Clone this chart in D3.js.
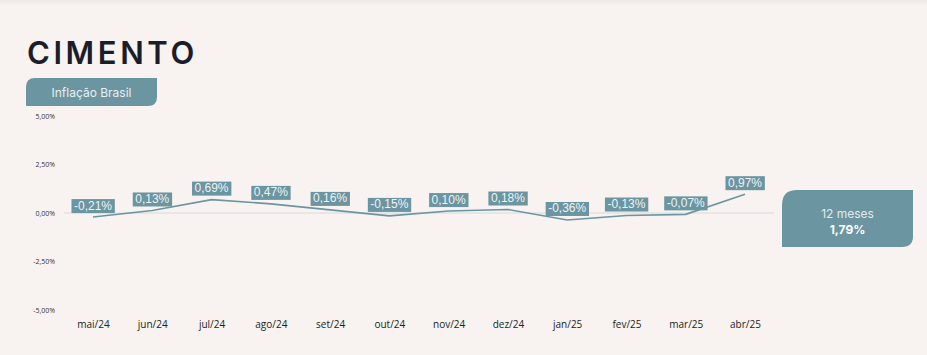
<!DOCTYPE html>
<html><head><meta charset="utf-8">
<script src="https://cdn.jsdelivr.net/npm/d3@7"></script>
<style>
html,body{margin:0;padding:0;background:#f8f3f0;}
svg{display:block;}
</style></head>
<body>
<svg id="chart" width="927" height="355"></svg>
<script>
const months = ["mai/24","jun/24","jul/24","ago/24","set/24","out/24","nov/24","dez/24","jan/25","fev/25","mar/25","abr/25"];
const values = [-0.21, 0.13, 0.69, 0.47, 0.16, -0.15, 0.10, 0.18, -0.36, -0.13, -0.07, 0.97];
const yTicks = [5, 2.5, 0, -2.5, -5];
const title = "CIMENTO";
const subtitle = "Inflação Brasil";
const summaryLabel = "12 meses";
const summaryValue = "1,79%";

const fmt = v => v.toFixed(2).replace(".", ",") + "%";
const svg = d3.select("#chart");
const teal = "#6b95a1";

const defs = svg.append("defs");
const g0 = defs.append("linearGradient").attr("id","topg").attr("x1",0).attr("x2",0).attr("y1",0).attr("y2",1);
g0.append("stop").attr("offset","0").attr("stop-color","#efe9e6");
g0.append("stop").attr("offset","1").attr("stop-color","#f8f3f0");
svg.append("rect").attr("width",927).attr("height",355).attr("fill","#f8f3f0");
svg.append("rect").attr("width",927).attr("height",6).attr("fill","url(#topg)");

// title
svg.append("text").attr("x",27).attr("y",63.5).text(title)
  .attr("font-family","Inter, 'Open Sans', sans-serif").attr("font-weight",600)
  .attr("font-size",31).attr("letter-spacing",3.6).attr("fill","#1c1d2b");

function tabPath(x,y,w,h,r1,r2){
  return `M${x+r1},${y} H${x+w} V${y+h-r2} Q${x+w},${y+h} ${x+w-r2},${y+h} H${x} V${y+r1} Q${x},${y} ${x+r1},${y} Z`;
}
svg.append("path").attr("d",tabPath(26,78,131,28,9,9)).attr("fill",teal);
svg.append("text").attr("x",91.5).attr("y",96.5).attr("text-anchor","middle").text(subtitle)
  .attr("font-family","Inter, sans-serif").attr("font-size",12).attr("fill","#e9eff1");

const x = d3.scalePoint().domain(months).range([93,745]);
const y = d3.scaleLinear().domain([-5,5]).range([310,116]);

const yAxis = d3.axisLeft(y).tickValues(yTicks).tickSize(0).tickPadding(0)
  .tickFormat(d => d.toFixed(2).replace(".", ",") + "%");
const ya = svg.append("g").attr("transform","translate(55,0)").call(yAxis);
ya.select(".domain").remove();
ya.selectAll("text").attr("font-family","'Open Sans', sans-serif").attr("font-size",7).attr("fill","#333");

const xAxis = d3.axisBottom(x).tickSize(0).tickPadding(0);
const xa = svg.append("g").attr("transform","translate(0,321)").call(xAxis);
xa.select(".domain").remove();
xa.selectAll("text").attr("font-family","'Open Sans', sans-serif").attr("font-size",10).attr("fill","#222");

svg.append("line").attr("x1",64).attr("x2",774).attr("y1",y(0)).attr("y2",y(0))
  .attr("stroke","#d5dadd").attr("stroke-width",1);

const line = d3.line().x((d,i)=>x(months[i])).y(d=>y(d));
svg.append("path").datum(values).attr("d",line).attr("fill","none")
  .attr("stroke",teal).attr("stroke-width",1.6);

const lg = svg.append("g");
values.forEach((v,i)=>{
  const cx = x(months[i]);
  const py = y(v);
  const t = lg.append("text").attr("x",cx).attr("y",py-7.5).attr("text-anchor","middle")
    .text(fmt(v)).attr("font-family","'Liberation Sans', Arial, sans-serif")
    .attr("font-size",12).attr("fill","#eef3f5");
  const bb = t.node().getBBox();
  lg.insert("rect","text").attr("x",bb.x-2.5).attr("y",py-18).attr("width",bb.width+5).attr("height",14)
    .attr("fill",teal);
});

svg.append("path").attr("d",tabPath(782,190,131,57,15,11)).attr("fill",teal);
svg.append("text").attr("x",847.5).attr("y",218).attr("text-anchor","middle").text(summaryLabel)
  .attr("font-family","Inter, sans-serif").attr("font-size",12).attr("fill","#e3eaed");
svg.append("text").attr("x",847.5).attr("y",234).attr("text-anchor","middle").text(summaryValue)
  .attr("font-family","Inter, sans-serif").attr("font-weight",700).attr("font-size",12).attr("fill","#ffffff");
</script>
</body></html>
